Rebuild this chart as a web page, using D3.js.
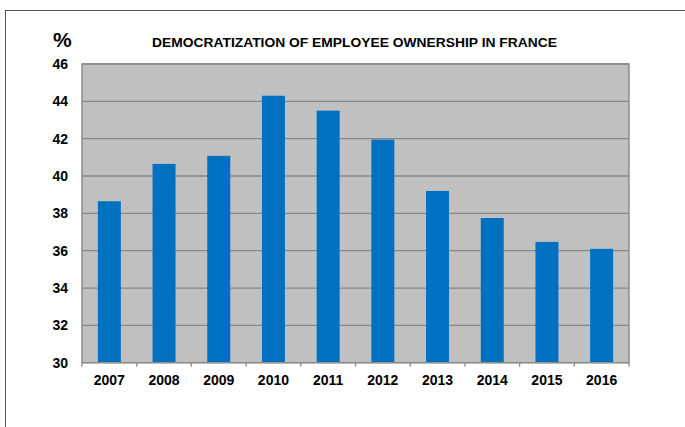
<!DOCTYPE html>
<html><head><meta charset="utf-8">
<script src="https://cdn.jsdelivr.net/npm/d3@7"></script>
<style>body{margin:0;background:#fff}svg{display:block}text{font-family:"Liberation Sans",Arial,sans-serif;font-weight:bold;fill:#000}</style>
</head><body>
<script>
const years = ["2007","2008","2009","2010","2011","2012","2013","2014","2015","2016"];
const values = [38.65, 40.65, 41.08, 44.3, 43.5, 41.95, 39.2, 37.75, 36.47, 36.1];
const yTicks = [30,32,34,36,38,40,42,44,46];
const title = "DEMOCRATIZATION OF EMPLOYEE OWNERSHIP IN FRANCE";

const W = 685, H = 427;
const svg = d3.select("body").append("svg").attr("width", W).attr("height", H);
const L = 82, R = 629, T = 64, B = 362.7;

svg.append("rect").attr("x",5.5).attr("y",10.5).attr("width",720).attr("height",500)
  .attr("fill","none").attr("stroke","#555").attr("stroke-width",1);

const x = d3.scaleBand().domain(years).range([L,R]).paddingInner(0.58).paddingOuter(0.29);
const xb = d3.scaleBand().domain(years).range([L,R]);
const y = d3.scaleLinear().domain([30,46]).range([B,T]);

svg.append("rect").attr("x",L).attr("y",T).attr("width",R-L).attr("height",B-T).attr("fill","#c0c0c0");

svg.append("g").selectAll("line").data(yTicks).join("line")
  .attr("x1",L).attr("x2",R).attr("y1",d=>y(d)).attr("y2",d=>y(d))
  .attr("stroke","#868686").attr("stroke-width",1.3);

svg.append("g").selectAll("rect").data(values).join("rect")
  .attr("x",(d,i)=>x(years[i])).attr("width",x.bandwidth())
  .attr("y",d=>y(d)).attr("height",d=>B-y(d)).attr("fill","#0070c0");

// plot border
svg.append("rect").attr("x",L).attr("y",T).attr("width",R-L).attr("height",B-T)
  .attr("fill","none").attr("stroke","#8c8c8c").attr("stroke-width",1.5);

// x ticks between categories
const tickPos = years.map(d=>xb(d)).concat([R]);
svg.append("g").selectAll("line").data(tickPos).join("line")
  .attr("x1",d=>d).attr("x2",d=>d).attr("y1",B).attr("y2",B+4)
  .attr("stroke","#8c8c8c").attr("stroke-width",1.3);

svg.append("g").selectAll("text").data(years).join("text")
  .attr("x",d=>xb(d)+xb.bandwidth()/2).attr("y",385)
  .attr("text-anchor","middle").attr("font-size",14).text(d=>d);

svg.append("g").selectAll("text").data(yTicks).join("text")
  .attr("x",68).attr("y",d=>y(d)+5).attr("text-anchor","end")
  .attr("font-size",14).text(d=>d);

svg.append("text").attr("x",53).attr("y",47).attr("font-size",21).text("%");
svg.append("text").attr("x",152).attr("y",47).attr("font-size",12)
  .attr("textLength",405).attr("lengthAdjust","spacingAndGlyphs").text(title);
</script>
</body></html>
